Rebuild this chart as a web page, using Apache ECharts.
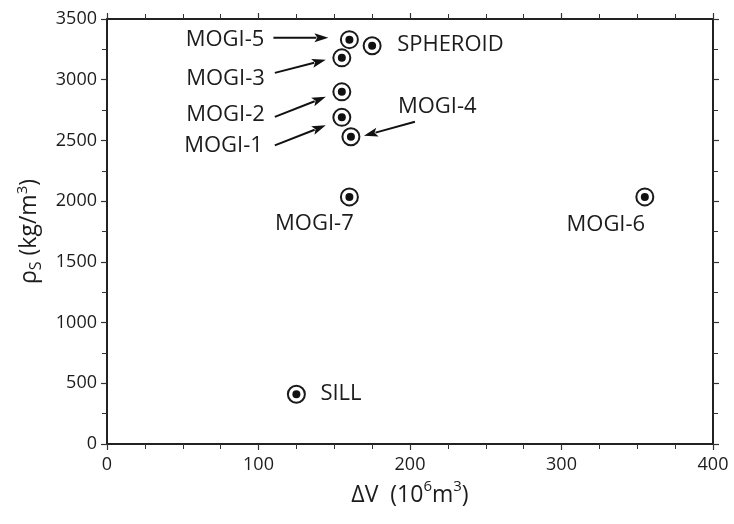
<!DOCTYPE html>
<html>
<head>
<meta charset="utf-8">
<script src="https://cdn.jsdelivr.net/npm/echarts@6/dist/echarts.min.js"></script>
<style>
html,body{margin:0;padding:0;background:#fff;}
#main{width:734px;height:524px;}
</style>
</head>
<body>
<div id="main"></div>
<script>
// ---- data ----
var names   = ['MOGI-1','MOGI-2','MOGI-3','MOGI-4','MOGI-5','MOGI-6','MOGI-7','SPHEROID','SILL'];
var deltaV  = [155, 155, 155, 161, 160, 355, 160, 175, 125];
var rhoS    = [2690, 2900, 3180, 2530, 3330, 2035, 2035, 3280, 410];
var xTicks  = [0, 100, 200, 300, 400];
var yTicks  = [0, 500, 1000, 1500, 2000, 2500, 3000, 3500];

// ---- label placement (pixel offsets from the symbol centre) ----
var labelPlace = {
  'MOGI-1':   {dx:-79, dy:28,  align:'right'},
  'MOGI-2':   {dx:-77, dy:23,  align:'right'},
  'MOGI-3':   {dx:-77, dy:21,  align:'right'},
  'MOGI-4':   {dx:47,  dy:-30, align:'left'},
  'MOGI-5':   {dx:-85, dy:0,   align:'right'},
  'MOGI-6':   {dx:-39, dy:28,  align:'center'},
  'MOGI-7':   {dx:-35, dy:27,  align:'center'},
  'SPHEROID': {dx:25,  dy:-1,  align:'left'},
  'SILL':     {dx:24,  dy:0,   align:'left'}
};
// arrows: [startDx, startDy, tipDx, tipDy] in pixels relative to the point
var arrowPlace = {
  'MOGI-5': [-76,-2,-21,-2],
  'MOGI-3': [-67,15,-16,2],
  'MOGI-2': [-67,25,-16,5],
  'MOGI-1': [-67,28,-16,8],
  'MOGI-4': [64,-15,13,-1]
};

var FONT = '"Open Sans", "Noto Sans", sans-serif';
var TXT = '#1c1c1c';
var pts = names.map(function(n,i){ return {name:n, value:[deltaV[i], rhoS[i]]}; });

var labelled = pts.map(function(p){
  var lp = labelPlace[p.name];
  return {
    name: p.name, value: p.value,
    label: {show:true, position:'inside', formatter: p.name,
      align: lp.align, verticalAlign:'middle', offset:[lp.dx, lp.dy],
      color:TXT, fontSize:22, fontFamily:FONT}
  };
});

var axisLine = {show:true, onZero:false, lineStyle:{color:'#222', width:2}};
var axisTick = {show:true, inside:false, length:6, lineStyle:{color:'#333', width:1.2}};
function plain(v){ return String(v); }

var chart = echarts.init(document.getElementById('main'), null, {renderer:'canvas'});
var option = {
  backgroundColor:'#fff',
  animation:false,
  grid:{left:107, right:21, top:19, bottom:80, containLabel:false},
  xAxis:[
    {type:'value', position:'bottom', min:xTicks[0], max:xTicks[xTicks.length-1], interval:100,
      axisLine:axisLine, axisTick:axisTick, splitLine:{show:false},
      axisLabel:{color:TXT, fontSize:18, fontFamily:FONT, margin:12, formatter:plain},
      minorTick:{show:true, splitNumber:4, length:5, lineStyle:{color:'#333', width:1}},
      name:'{a|\u0394V  (10}{sup|6}{a|m}{sup|3}{a|)}', nameLocation:'middle', nameGap:35,
      nameTextStyle:{rich:{
        a:{fontSize:23, fontFamily:FONT, color:TXT, lineHeight:28, verticalAlign:'bottom'},
        sup:{fontSize:15, fontFamily:FONT, color:TXT, lineHeight:28, verticalAlign:'top', padding:[0,0,12,0]}
      }}
    },
    {type:'value', position:'top', min:xTicks[0], max:xTicks[xTicks.length-1], interval:100,
      axisLine:axisLine, axisTick:axisTick, splitLine:{show:false},
      axisLabel:{show:false},
      minorTick:{show:true, splitNumber:4, length:5, lineStyle:{color:'#333', width:1}}
    }
  ],
  yAxis:[
    {type:'value', position:'left', min:yTicks[0], max:yTicks[yTicks.length-1], interval:500,
      axisLine:axisLine, axisTick:axisTick, splitLine:{show:false},
      axisLabel:{color:TXT, fontSize:18, fontFamily:FONT, margin:10, formatter:plain},
      minorTick:{show:true, splitNumber:2, length:5, lineStyle:{color:'#333', width:1}},
      name:'{a|\u03C1}{sub|S}{a| (kg/m}{sup|3}{a|)}', nameLocation:'middle', nameGap:61, nameRotate:90,
      nameTextStyle:{rich:{
        a:{fontSize:23, fontFamily:FONT, color:TXT, lineHeight:30, verticalAlign:'middle'},
        sub:{fontSize:16, fontFamily:FONT, color:TXT, lineHeight:30, verticalAlign:'bottom', padding:[9,0,0,0]},
        sup:{fontSize:15, fontFamily:FONT, color:TXT, lineHeight:30, verticalAlign:'top', padding:[0,0,11,0]}
      }}
    },
    {type:'value', position:'right', min:yTicks[0], max:yTicks[yTicks.length-1], interval:500,
      axisLine:axisLine, axisTick:axisTick, splitLine:{show:false},
      axisLabel:{show:false},
      minorTick:{show:true, splitNumber:2, length:5, lineStyle:{color:'#333', width:1}}
    }
  ],
  series:[
    {type:'scatter', xAxisIndex:0, yAxisIndex:0, symbol:'circle', symbolSize:17,
     itemStyle:{color:'#fff', borderColor:'#1a1a1a', borderWidth:2, opacity:1},
     data: labelled, z:3, silent:true},
    {type:'scatter', xAxisIndex:0, yAxisIndex:0, symbol:'circle', symbolSize:8,
     itemStyle:{color:'#111', opacity:1},
     data: pts, z:4, silent:true}
  ]
};
chart.setOption(option);

// arrows as graphic annotations anchored to the data points
var graphics = [];
names.forEach(function(n,i){
  var a = arrowPlace[n];
  if(!a) return;
  var c = chart.convertToPixel({xAxisIndex:0, yAxisIndex:0}, [deltaV[i], rhoS[i]]);
  var x1 = c[0]+a[0], y1 = c[1]+a[1], x2 = c[0]+a[2], y2 = c[1]+a[3];
  var dx = x2-x1, dy = y2-y1, L = Math.sqrt(dx*dx+dy*dy);
  var ux = dx/L, uy = dy/L, px = -uy, py = ux;
  var hl = 14, hw = 4.5;
  var bx = x2-ux*hl, by = y2-uy*hl;
  graphics.push({type:'line', shape:{x1:x1, y1:y1, x2:bx+ux*2, y2:by+uy*2},
    style:{stroke:'#111', lineWidth:2}, silent:true, z:10});
  graphics.push({type:'polygon', shape:{points:[[x2,y2],[bx+px*hw, by+py*hw],[bx+ux*3, by+uy*3],[bx-px*hw, by-py*hw]]},
    style:{fill:'#111'}, silent:true, z:10});
});
chart.setOption({graphic:graphics});
</script>
</body>
</html>
